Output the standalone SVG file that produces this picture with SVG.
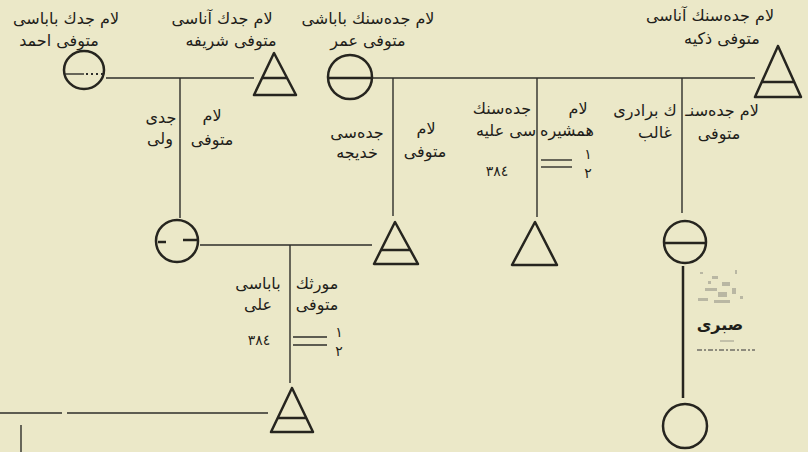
<svg xmlns="http://www.w3.org/2000/svg" width="808" height="452" viewBox="0 0 808 452">
<style>
.bg{fill:#ebe8c8}
.ln{stroke:#2e2e2a;stroke-width:1.4;fill:none}
.sh{stroke:#26251f;stroke-width:2.5;fill:none;stroke-linejoin:round}
.t{font-family:"DejaVu Sans","Noto Sans",sans-serif;font-size:16px;fill:#1f1e1a;text-anchor:middle}
.n{font-family:"DejaVu Sans","Noto Sans",sans-serif;font-size:14px;fill:#1f1e1a;text-anchor:middle}
</style>
<rect class="bg" x="0" y="0" width="808" height="452"/>
<g id="connectors">
<line class="ln" x1="106" y1="78" x2="254" y2="78"/>
<line class="ln" x1="372" y1="78" x2="755" y2="78"/>
<line class="ln" x1="180" y1="78" x2="180" y2="218"/>
<line class="ln" x1="393" y1="78" x2="393" y2="216"/>
<line class="ln" x1="537" y1="78" x2="537" y2="217"/>
<line class="ln" x1="682" y1="78" x2="682" y2="213"/>
<line class="ln" x1="200" y1="245" x2="372" y2="245"/>
<line class="ln" x1="290" y1="245" x2="290" y2="383"/>
<line class="ln" x1="0" y1="413" x2="62" y2="413"/>
<line class="ln" x1="67" y1="413" x2="268" y2="413"/>
<line class="ln" x1="21" y1="425" x2="21" y2="452"/>
<line class="sh" x1="683" y1="266" x2="683" y2="398"/>
</g>
<g id="n-ahmed">
<ellipse class="sh" cx="84" cy="70" rx="20" ry="19"/>
<line class="ln" x1="65" y1="74" x2="84" y2="74"/>
<line x1="86" y1="74" x2="103" y2="74" stroke="#2e2e2a" stroke-width="2" stroke-dasharray="2 3"/>
<text class="t" x="66" y="24">لام جدك باباسى</text>
<text class="t" x="59" y="46">متوفى احمد</text>
</g>
<g id="n-sharife">
<polygon class="sh" points="274,53 254,95 296,95"/>
<line class="sh" x1="262" y1="78" x2="287" y2="78"/>
<text class="t" x="222" y="24">لام جدك آناسى</text>
<text class="t" x="231" y="46">متوفى شريفه</text>
</g>
<g id="n-omar">
<circle class="sh" cx="350" cy="77" r="22"/>
<line class="sh" x1="328" y1="78" x2="372" y2="78"/>
<text class="t" x="368" y="24">لام جدەسنك باباشى</text>
<text class="t" x="368" y="46">متوفى عمر</text>
</g>
<g id="n-zekiye">
<polygon class="sh" points="778,46 755,97 801,97"/>
<line class="sh" x1="762" y1="82" x2="794" y2="82"/>
<text class="t" x="710" y="21">لام جدەسنك آناسى</text>
<text class="t" x="722" y="44">متوفى ذكيه</text>
</g>
<g id="n-veli">
<circle class="sh" cx="177" cy="241" r="21"/>
<line class="sh" x1="158" y1="242" x2="166" y2="242"/>
<line class="sh" x1="183" y1="240" x2="197" y2="240"/>
<text class="t" x="161" y="123">جدى</text>
<text class="t" x="160" y="144">ولى</text>
<text class="t" x="212" y="121">لام</text>
<text class="t" x="212" y="145">متوفى</text>
</g>
<g id="n-hadice">
<polygon class="sh" points="395,222 374,264 418,264"/>
<line class="sh" x1="381" y1="250" x2="410" y2="250"/>
<text class="t" x="357" y="138">جدەسى</text>
<text class="t" x="357" y="158">خديجه</text>
<text class="t" x="426" y="134">لام</text>
<text class="t" x="425" y="157">متوفى</text>
</g>
<g id="n-aliye">
<polygon class="sh" points="535,222 512,265 557,265"/>
<text class="t" x="502" y="114">جدەسنك</text>
<text class="t" x="506" y="136">سى عليه</text>
<text class="n" x="497" y="176">٣٨٤</text>
<text class="t" x="578" y="114">لام</text>
<text class="t" x="567" y="136">همشيره</text>
<line class="ln" x1="541" y1="160" x2="572" y2="160"/>
<line class="ln" x1="541" y1="167" x2="572" y2="167"/>
<text class="n" x="588" y="159">١</text>
<text class="n" x="588" y="178">٢</text>
</g>
<g id="n-galib">
<circle class="sh" cx="685" cy="242" r="21"/>
<line class="sh" x1="665" y1="243" x2="706" y2="243"/>
<text class="t" x="645" y="116">ك برادرى</text>
<text class="t" x="655" y="138">غالب</text>
<text class="t" x="722" y="116">لام جدەسنـ</text>
<text class="t" x="719" y="139">متوفى</text>
</g>
<g id="n-sabri">
<circle class="sh" cx="685" cy="426" r="22"/>
<g fill="#b9b7a3">
<rect x="700" y="272" width="3" height="2"/><rect x="712" y="276" width="6" height="3"/><rect x="722" y="282" width="8" height="4"/>
<rect x="705" y="288" width="12" height="3"/><rect x="718" y="292" width="9" height="5"/><rect x="732" y="288" width="4" height="6"/>
<rect x="698" y="298" width="10" height="3"/><rect x="714" y="300" width="16" height="3"/><rect x="735" y="270" width="2" height="4"/>
<rect x="740" y="296" width="3" height="3"/><rect x="708" y="281" width="3" height="3"/>
</g>
<text class="t" x="720" y="330" font-weight="bold">صبرى</text>
<line x1="720" y1="341" x2="734" y2="341" stroke="#9a988a" stroke-width="1"/>
<line x1="697" y1="350" x2="755" y2="350" stroke="#8e8c7e" stroke-width="2" stroke-dasharray="5 2 2 2"/>
</g>
<g id="n-ali">
<polygon class="sh" points="292,388 271,432 313,432"/>
<line class="sh" x1="278" y1="418" x2="306" y2="418"/>
<text class="t" x="258" y="289">باباسى</text>
<text class="t" x="258" y="310">على</text>
<text class="n" x="259" y="345">٣٨٤</text>
<text class="t" x="317" y="289">مورثك</text>
<text class="t" x="317" y="310">متوفى</text>
<line class="ln" x1="293" y1="337" x2="327" y2="337"/>
<line class="ln" x1="293" y1="345" x2="327" y2="345"/>
<text class="n" x="339" y="337">١</text>
<text class="n" x="339" y="356">٢</text>
</g>
</svg>
